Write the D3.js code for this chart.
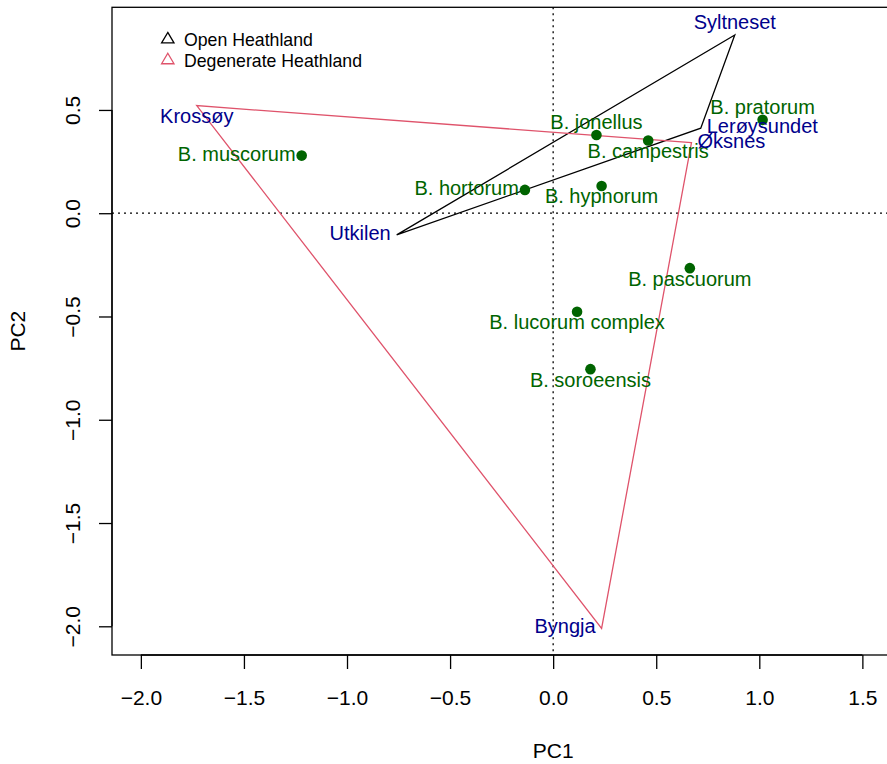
<!DOCTYPE html>
<html>
<head>
<meta charset="utf-8">
<script src="https://cdn.jsdelivr.net/npm/d3@7"></script>
<style>
  html, body { margin: 0; padding: 0; background: #fff; }
  svg { display: block; font-family: "Liberation Sans", Arial, Helvetica, sans-serif; }
</style>
</head>
<body>
<svg id="chart" width="887" height="764"></svg>
<script>
// ---- data ----
const speciesNames = ["B. muscorum", "B. jonellus", "B. campestris", "B. pratorum", "B. hypnorum",
                      "B. hortorum", "B. pascuorum", "B. lucorum complex", "B. soroeensis"];
const speciesPC1 = [-1.220, 0.210, 0.461, 1.016, 0.235, -0.137, 0.663, 0.116, 0.181];
const speciesPC2 = [0.279, 0.379, 0.352, 0.452, 0.132, 0.113, -0.266, -0.477, -0.755];
// label side, R "pos" codes: 1 below, 2 left, 3 above, 4 right
const speciesPos = [2, 3, 1, 3, 1, 2, 1, 1, 1];

const siteNames = ["Syltneset", "Lerøysundet", "Utkilen", "Krossøy", "Øksnes", "Byngja"];
const sitePC1 = [0.881, 0.716, -0.759, -1.729, 0.671, 0.235];
const sitePC2 = [0.863, 0.412, -0.105, 0.521, 0.342, -2.010];
const siteGroup = ["Open Heathland", "Open Heathland", "Open Heathland",
                   "Degenerate Heathland", "Degenerate Heathland", "Degenerate Heathland"];
const sitePos = [3, 4, 2, 1, 4, 2];

const groups = ["Open Heathland", "Degenerate Heathland"];
const groupColors = ["#000000", "#DF536B"];

const xTicks = [-2.0, -1.5, -1.0, -0.5, 0.0, 0.5, 1.0, 1.5];
const yTicks = [-2.0, -1.5, -1.0, -0.5, 0.0, 0.5];
const xLimits = [-2.140, 1.634];
const yLimits = [-2.139, 0.997];

// ---- layout ----
const svg = d3.select("#chart");
const box = { left: 112, right: 890, top: 7.3, bottom: 655 };
const x = d3.scaleLinear().domain(xLimits).range([box.left, box.right]);
const y = d3.scaleLinear().domain(yLimits).range([box.bottom, box.top]);

const green = "#006400", blue = "#00008B";

// reference lines (dotted)
svg.append("line")
  .attr("x1", box.left).attr("x2", box.right)
  .attr("y1", y(0)).attr("y2", y(0))
  .attr("stroke", "#000").attr("stroke-width", 1.3).attr("stroke-dasharray", "2,4");
svg.append("line")
  .attr("x1", x(0)).attr("x2", x(0))
  .attr("y1", box.top).attr("y2", box.bottom)
  .attr("stroke", "#000").attr("stroke-width", 1.3).attr("stroke-dasharray", "2,4");

// hulls per group
groups.forEach((g, gi) => {
  const pts = siteNames.map((n, i) => i).filter(i => siteGroup[i] === g)
    .map(i => [x(sitePC1[i]), y(sitePC2[i])]);
  const hull = d3.polygonHull(pts);
  svg.append("path")
    .attr("d", "M" + hull.map(p => p.join(",")).join("L") + "Z")
    .attr("fill", "none").attr("stroke", groupColors[gi]).attr("stroke-width", 1.3);
});

function labelAttrs(sel, px, py, pos) {
  const gap = 6;
  if (pos === 1) sel.attr("x", px).attr("y", py + 17.5).attr("text-anchor", "middle");
  else if (pos === 3) sel.attr("x", px).attr("y", py - 6).attr("text-anchor", "middle");
  else if (pos === 2) sel.attr("x", px - gap).attr("y", py + 5).attr("text-anchor", "end");
  else sel.attr("x", px + gap).attr("y", py + 5).attr("text-anchor", "start");
}

// species points
speciesNames.forEach((n, i) => {
  svg.append("circle")
    .attr("cx", x(speciesPC1[i])).attr("cy", y(speciesPC2[i])).attr("r", 5.3)
    .attr("fill", green);
});
speciesNames.forEach((n, i) => {
  const t = svg.append("text").text(n)
    .attr("fill", green).attr("font-size", 20);
  labelAttrs(t, x(speciesPC1[i]), y(speciesPC2[i]), speciesPos[i]);
});

// site labels
siteNames.forEach((n, i) => {
  const t = svg.append("text").text(n)
    .attr("fill", blue).attr("font-size", 20);
  labelAttrs(t, x(sitePC1[i]), y(sitePC2[i]), sitePos[i]);
});

// box
svg.append("rect")
  .attr("x", box.left).attr("y", box.top)
  .attr("width", box.right - box.left).attr("height", box.bottom - box.top)
  .attr("fill", "none").attr("stroke", "#000").attr("stroke-width", 1.3);

// axes
const xAxis = d3.axisBottom(x).tickValues(xTicks).tickFormat(d3.format(".1f")).tickSize(14).tickPadding(21);
const gx = svg.append("g").attr("transform", `translate(0,${box.bottom})`).call(xAxis);
gx.select(".domain").attr("d", `M${x(xTicks[0])},0H${x(xTicks[xTicks.length - 1])}`).attr("stroke-width", 1.3);
gx.selectAll(".tick line").attr("stroke-width", 1.3);
gx.selectAll("text").attr("font-size", 21).attr("fill", "#000")
  .attr("font-family", "Liberation Sans, Arial, sans-serif").attr("dy", 0).attr("y", 50);

const yAxis = d3.axisLeft(y).tickValues(yTicks).tickFormat(d3.format(".1f")).tickSize(13);
const gy = svg.append("g").attr("transform", `translate(${box.left},0)`).call(yAxis);
gy.select(".domain").attr("d", `M0,${y(yTicks[0])}V${y(yTicks[yTicks.length - 1])}`).attr("stroke-width", 1.3);
gy.selectAll(".tick line").attr("stroke-width", 1.3);
gy.selectAll("text")
  .attr("font-size", 21).attr("fill", "#000")
  .attr("font-family", "Liberation Sans, Arial, sans-serif")
  .attr("x", 0).attr("dy", 0).attr("y", 0)
  .attr("text-anchor", "middle")
  .attr("transform", "translate(-32,0) rotate(-90)");

// axis titles
svg.append("text").text("PC1")
  .attr("x", x(0)).attr("y", 758.3).attr("text-anchor", "middle")
  .attr("font-size", 21).attr("fill", "#000");
svg.append("text").text("PC2")
  .attr("transform", `translate(25,${(box.top + box.bottom) / 2}) rotate(-90)`)
  .attr("text-anchor", "middle")
  .attr("font-size", 21).attr("fill", "#000");

// legend
groups.forEach((g, gi) => {
  const cy = 38 + gi * 20.8;
  const s = 6.2;
  svg.append("path")
    .attr("d", `M${167.8},${cy - s * 0.9}L${167.8 + s},${cy + s * 0.8}L${167.8 - s},${cy + s * 0.8}Z`)
    .attr("fill", "none").attr("stroke", groupColors[gi]).attr("stroke-width", 1.3);
  svg.append("text").text(g)
    .attr("x", 184).attr("y", 46 + gi * 20.7)
    .attr("font-size", 17.7).attr("fill", "#000");
});
</script>
</body>
</html>
